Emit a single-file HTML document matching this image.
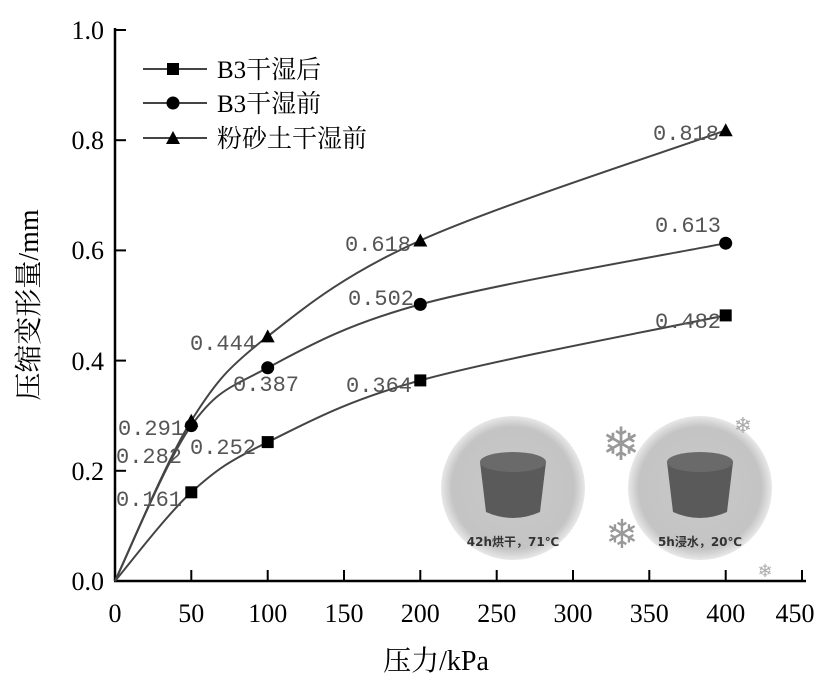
<!DOCTYPE html>
<html><head><meta charset="utf-8"><style>
html,body{margin:0;padding:0;background:#fff;}
svg{display:block;}
.ser{font-family:"Liberation Serif","Noto Serif CJK SC",serif;}
.mono{font-family:"Liberation Mono","DejaVu Sans Mono",monospace;}
</style></head><body>
<svg width="835" height="688" viewBox="0 0 835 688" xmlns="http://www.w3.org/2000/svg">
<defs>
<radialGradient id="g1" cx="50%" cy="50%" r="50%"><stop offset="0" stop-color="#c8c8c8"/><stop offset="0.85" stop-color="#c4c4c4"/><stop offset="1" stop-color="#e8e8e8"/></radialGradient>
</defs>
<g>
<circle cx="513" cy="488" r="72" fill="url(#g1)"/>
<path d="M480 462 Q513 448 546 462 L540 512 Q513 524 486 512 Z" fill="#5a5a5a"/>
<ellipse cx="513" cy="462" rx="33" ry="10" fill="#6a6a6a"/>
<text x="513" y="546" font-size="12" font-weight="bold" text-anchor="middle" fill="#333" font-family="'DejaVu Sans','Noto Sans CJK SC',sans-serif">42h烘干，71℃</text>
<circle cx="700" cy="488" r="72" fill="url(#g1)"/>
<path d="M667 462 Q700 448 733 462 L727 512 Q700 524 673 512 Z" fill="#5a5a5a"/>
<ellipse cx="700" cy="462" rx="33" ry="10" fill="#6a6a6a"/>
<text x="700" y="546" font-size="12" font-weight="bold" text-anchor="middle" fill="#333" font-family="'DejaVu Sans','Noto Sans CJK SC',sans-serif">5h浸水，20℃</text>
<text x="621" y="460" font-size="46" text-anchor="middle" fill="#999" font-family="'DejaVu Sans',sans-serif">❄</text>
<text x="622" y="548" font-size="40" text-anchor="middle" fill="#999" font-family="'DejaVu Sans',sans-serif">❄</text>
<text x="743" y="433" font-size="22" text-anchor="middle" fill="#aaa" font-family="'DejaVu Sans',sans-serif">❄</text>
<text x="765" y="577" font-size="18" text-anchor="middle" fill="#aaa" font-family="'DejaVu Sans',sans-serif">❄</text>
</g>
<g stroke="#000" stroke-width="2.5" fill="none">
<line x1="115" y1="28" x2="115" y2="581"/>
<line x1="114" y1="581" x2="806" y2="581"/>
</g>
<g stroke="#000" stroke-width="2">
<line x1="191.3" y1="581" x2="191.3" y2="570"/>
<line x1="267.7" y1="581" x2="267.7" y2="570"/>
<line x1="344" y1="581" x2="344" y2="570"/>
<line x1="420.3" y1="581" x2="420.3" y2="570"/>
<line x1="496.7" y1="581" x2="496.7" y2="570"/>
<line x1="573" y1="581" x2="573" y2="570"/>
<line x1="649.3" y1="581" x2="649.3" y2="570"/>
<line x1="725.7" y1="581" x2="725.7" y2="570"/>
<line x1="802" y1="581" x2="802" y2="570"/>
<line x1="115" y1="470.8" x2="126" y2="470.8"/>
<line x1="115" y1="360.6" x2="126" y2="360.6"/>
<line x1="115" y1="250.4" x2="126" y2="250.4"/>
<line x1="115" y1="140.2" x2="126" y2="140.2"/>
<line x1="115" y1="30" x2="126" y2="30"/>
</g>
<g class="ser" font-size="26" fill="#000" text-anchor="middle">
<text x="115" y="622">0</text>
<text x="191.3" y="622">50</text>
<text x="267.7" y="622">100</text>
<text x="344" y="622">150</text>
<text x="420.3" y="622">200</text>
<text x="496.7" y="622">250</text>
<text x="573" y="622">300</text>
<text x="649.3" y="622">350</text>
<text x="725.7" y="622">400</text>
<text x="795" y="622">450</text>
</g>
<g class="ser" font-size="26" fill="#000" text-anchor="end">
<text x="104" y="590">0.0</text>
<text x="104" y="480">0.2</text>
<text x="104" y="370">0.4</text>
<text x="104" y="259">0.6</text>
<text x="104" y="149">0.8</text>
<text x="104" y="39">1.0</text>
</g>
<text class="ser" x="436" y="670" font-size="28" text-anchor="middle">压力/kPa</text>
<text class="ser" transform="translate(38,305) rotate(-90)" font-size="28" text-anchor="middle">压缩变形量/mm</text>
<g fill="none" stroke="#444" stroke-width="2">
<path d="M115 581 C127.7 566.2 165.9 515.5 191.3 492.3 C216.8 469.2 229.5 460.8 267.7 442.1 C305.9 423.5 344 401.5 420.3 380.4 C496.6 359.3 674.8 326.2 725.7 315.4"/>
<path d="M115 581 C127.7 555.1 165.9 461.1 191.3 425.6 C216.8 390.1 229.5 388 267.7 367.8 C305.9 347.6 344 325.2 420.3 304.4 C496.6 283.6 674.8 253.4 725.7 243.2"/>
<path d="M115 581 C127.7 554.3 165.9 461.5 191.3 420.7 C216.8 379.9 229.5 366.4 267.7 336.4 C305.9 306.4 344 274.9 420.3 240.5 C496.6 206.1 674.8 148.7 725.7 130.3"/>
</g>
<g fill="#000">
<rect x="185.3" y="486.3" width="12" height="12"/>
<rect x="261.7" y="436.1" width="12" height="12"/>
<rect x="414.3" y="374.4" width="12" height="12"/>
<rect x="719.7" y="309.4" width="12" height="12"/>
<circle cx="191.3" cy="425.6" r="6.5"/>
<circle cx="267.7" cy="367.8" r="6.5"/>
<circle cx="420.3" cy="304.4" r="6.5"/>
<circle cx="725.7" cy="243.2" r="6.5"/>
<polygon points="191.3,413.7 198.3,426.7 184.3,426.7"/>
<polygon points="267.7,329.4 274.7,342.4 260.7,342.4"/>
<polygon points="420.3,233.5 427.3,246.5 413.3,246.5"/>
<polygon points="725.7,123.3 732.7,136.3 718.7,136.3"/>
</g>
<g class="mono" font-size="22" fill="#555">
<text x="653" y="140">0.818</text>
<text x="655" y="232">0.613</text>
<text x="655" y="328">0.482</text>
<text x="345" y="251">0.618</text>
<text x="348" y="305">0.502</text>
<text x="346" y="392">0.364</text>
<text x="190" y="350">0.444</text>
<text x="233" y="391">0.387</text>
<text x="190" y="454">0.252</text>
<text x="118" y="435">0.291</text>
<text x="116" y="463">0.282</text>
<text x="116" y="506">0.161</text>
</g>
<g stroke="#444" stroke-width="2">
<line x1="143" y1="69" x2="207" y2="69"/>
<line x1="143" y1="103" x2="207" y2="103"/>
<line x1="143" y1="138" x2="207" y2="138"/>
</g>
<rect x="167" y="63" width="12" height="12" fill="#000"/>
<circle cx="173" cy="103" r="6.5" fill="#000"/>
<polygon points="173,131 180,144 166,144" fill="#000"/>
<g class="ser" font-size="25">
<text x="217" y="78">B3干湿后</text>
<text x="217" y="112">B3干湿前</text>
<text x="217" y="147">粉砂土干湿前</text>
</g>
</svg>
</body></html>
